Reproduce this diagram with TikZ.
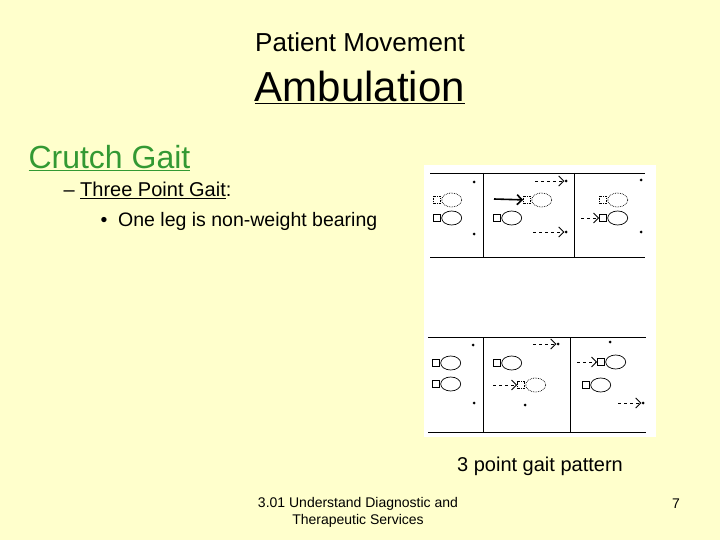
\documentclass[tikz,border=0pt]{standalone}
\usepackage{fontspec}
\setmainfont{Liberation Sans}
\usetikzlibrary{positioning,arrows.meta,shapes.geometric}
\definecolor{slidebg}{RGB}{255,255,204}
\definecolor{gaitgreen}{RGB}{51,153,51}
\tikzset{
  toe/.style={draw, line width=0.7pt, minimum width=7pt, minimum height=7pt, inner sep=0pt},
  heel/.style={draw, ellipse, line width=0.7pt, minimum width=20pt, minimum height=14pt, inner sep=0pt},
  tipdot/.style={circle, fill=black, inner sep=0pt, minimum size=3pt},
  mover/.style={-{Straight Barb[length=5pt]}, dashed, line width=0.9pt},
  push/.style={-{Straight Barb[length=5pt]}, line width=1.6pt}
}
% foot print: small square and oval
\newcommand{\footprint}[4]{%
  \node[toe, #4] (#1t) at (#2,#3) {};
  \node[heel, #4, right=0.5pt of #1t] (#1h) {};}
\begin{document}
\begin{tikzpicture}[x=1pt, y=-1pt]
    \fill[slidebg] (0,0) rectangle (720,540);
    \useasboundingbox (0,0) rectangle (720,540);

    % Titel
    \node[font=\fontsize{26}{30}\selectfont] (title) at (360,42) {Patient Movement};
    \node[font=\fontsize{42}{48}\selectfont] (sub) at (360,87) {\underline{Ambulation}};
    \node[anchor=west, text=gaitgreen, font=\fontsize{32}{36}\selectfont] (gait) at (25,158) {\underline{Crutch Gait}};
    \node[anchor=west, font=\fontsize{20}{24}\selectfont] (three) at (60,190) {-- \underline{Three Point Gait}:};
    \node[anchor=west, font=\fontsize{19.5}{24}\selectfont] (leg) at (97,221) {\textbullet\ \ One leg is non-weight bearing};

    % Bild
    \fill[white] (424,165) rectangle (656,437);
    \draw[line width=0.6pt] (430,173) -- (645,173) (430,257) -- (645,257);
    \draw[line width=0.6pt] (483,173) -- (483,257) (574,173) -- (574,257);
    \draw[line width=0.6pt] (428,337) -- (646,337) (428,432) -- (646,432);
    \draw[line width=0.6pt] (483,337) -- (483,432) (570,337) -- (570,432);

    % oben
    \node[tipdot] (a1) at (474,182) {};
    \node[tipdot] (a2) at (474,234) {};
    \footprint{a}{437}{200}{densely dotted}
    \footprint{b}{437}{218}{}
    \node[tipdot] (c1) at (566,181) {};
    \node[tipdot] (c2) at (566,232) {};
    \coordinate (c1s) at (535,181);
    \coordinate (c2s) at (533,232);
    \draw[mover] (c1s) -- (c1);
    \draw[mover] (c2s) -- (c2);
    \footprint{c}{527}{200}{densely dotted}
    \coordinate (cs) at (494,199);
    \draw[push] (cs) -- (ct);
    \footprint{d}{497}{218}{}
    \node[tipdot] (e1) at (641,180) {};
    \node[tipdot] (e2) at (641,232) {};
    \footprint{e}{603}{200}{densely dotted}
    \footprint{f}{603}{218}{}
    \coordinate (fs) at (581,218);
    \draw[mover] (fs) -- (ft);

    % unten
    \node[tipdot] (g1) at (473,345) {};
    \node[tipdot] (g2) at (474,403) {};
    \footprint{g}{436}{363}{}
    \footprint{h}{436}{384}{}
    \node[tipdot] (i1) at (558,344) {};
    \node[tipdot] (i2) at (525,405) {};
    \coordinate (i1s) at (533,344);
    \draw[mover] (i1s) -- (i1);
    \footprint{i}{497}{363}{}
    \footprint{j}{521}{385}{densely dotted}
    \coordinate (js) at (493,385);
    \draw[mover] (js) -- (jt);
    \node[tipdot] (k1) at (610,342) {};
    \node[tipdot] (k2) at (643,403) {};
    \footprint{k}{601}{362}{}
    \coordinate (ks) at (577,362);
    \draw[mover] (ks) -- (kt);
    \footprint{l}{586}{385}{}
    \coordinate (k2s) at (618,403);
    \draw[mover] (k2s) -- (k2);

    \node[font=\fontsize{20}{24}\selectfont] (cap) at (540,466) {3 point gait pattern};

    % Fusszeile
    \node[align=center, font=\fontsize{14}{17}\selectfont] (foot) at (358,512) {3.01 Understand Diagnostic and\\Therapeutic Services};
    \node[font=\fontsize{14}{16}\selectfont] (page) at (676,504) {7};
\end{tikzpicture}
\end{document}
